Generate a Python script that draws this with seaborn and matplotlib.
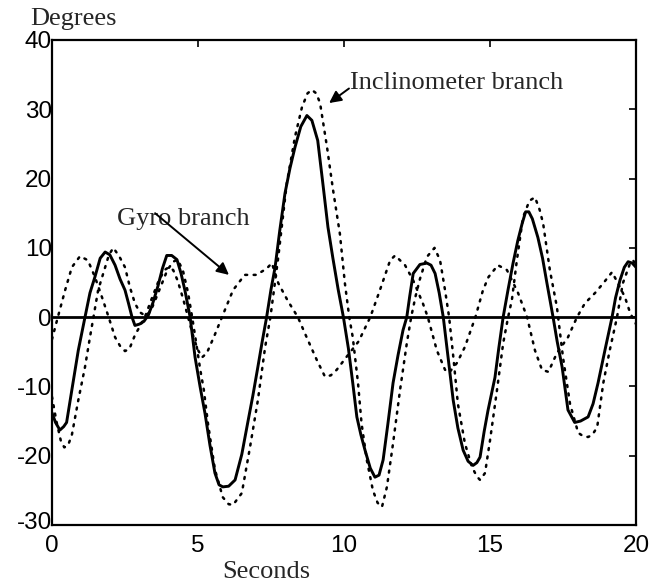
import matplotlib
matplotlib.use("Agg")
import matplotlib.pyplot as plt
import matplotlib.transforms as mtransforms
import seaborn as sns
import pandas as pd

# ---- data ----
t_output = [0.0, 0.12, 0.27, 0.4, 0.5, 0.68, 0.9, 1.13, 1.3, 1.47, 1.65, 1.82, 1.98, 2.16, 2.33, 2.5,
            2.62, 2.74, 2.84, 3.0, 3.15, 3.3, 3.45, 3.63, 3.78, 3.93, 4.1, 4.28, 4.42, 4.55, 4.73, 4.9,
            5.07, 5.24, 5.41, 5.58, 5.72, 5.85, 6.05, 6.27, 6.5, 6.7, 6.88, 7.05, 7.2, 7.35, 7.5, 7.64,
            7.8, 7.98, 8.15, 8.32, 8.52, 8.73, 8.9, 9.1, 9.27, 9.45, 9.62, 9.8, 9.98, 10.15, 10.3, 10.44,
            10.58, 10.72, 10.9, 11.06, 11.2, 11.34, 11.5, 11.68, 11.85, 12.02, 12.15, 12.25, 12.37, 12.6,
            12.84, 12.98, 13.12, 13.26, 13.4, 13.57, 13.74, 13.9, 14.08, 14.25, 14.42, 14.55, 14.66, 14.8,
            14.93, 15.17, 15.3, 15.45, 15.62, 15.79, 15.95, 16.1, 16.22, 16.33, 16.45, 16.64, 16.8, 16.95,
            17.16, 17.3, 17.47, 17.67, 17.9, 18.1, 18.36, 18.53, 18.7, 18.95, 19.18, 19.3, 19.45, 19.6,
            19.73, 19.87, 20.0]
v_output = [-13.8, -15.2, -16.3, -15.8, -15.2, -10.5, -4.8, 0.0, 3.5, 5.8, 8.5, 9.4, 9.0, 7.5, 5.5, 3.9,
            2.0, 0.0, -1.2, -1.0, -0.6, 0.3, 2.0, 4.5, 7.0, 8.9, 8.9, 8.3, 6.3, 3.9, 0.0, -5.8,
            -10.0, -13.9, -18.5, -22.5, -24.2, -24.5, -24.4, -23.5, -19.8, -15.3, -11.3, -7.2, -3.5, 0.0, 4.0, 7.2,
            12.5, 17.9, 21.5, 24.5, 27.5, 29.1, 28.4, 25.5, 19.5, 13.0, 8.5, 4.0, 0.0, -4.5, -9.5, -14.4,
            -17.0, -19.2, -21.8, -23.1, -22.8, -20.6, -15.5, -9.5, -5.5, -1.9, 0.0, 3.0, 6.3, 7.6,
            7.8, 7.5, 6.3, 3.5, 0.0, -6.0, -12.0, -16.0, -19.2, -20.8, -21.4, -21.0, -20.2, -16.5,
            -13.5, -8.7, -4.5, 0.0, 4.0, 7.8, 11.0, 13.5, 15.2, 15.2, 14.2, 11.5, 8.5, 4.9,
            0.0, -3.5, -7.2, -13.4, -15.2, -15.0, -14.4, -12.5, -9.5, -4.5, 0.0, 2.8, 5.3, 7.2,
            8.0, 7.8, 7.2]

t_incl = [0.0, 0.15, 0.3, 0.42, 0.55, 0.68, 0.9, 1.13, 1.3, 1.42, 1.58, 1.82, 1.95, 2.1, 2.3, 2.5,
          2.67, 2.84, 3.01, 3.2, 3.37, 3.53, 3.77, 3.95, 4.15, 4.3, 4.48, 4.66, 4.8, 4.93, 5.07, 5.2,
          5.34, 5.58, 5.85, 6.05, 6.2, 6.5, 6.78, 7.05, 7.3, 7.48, 7.75, 8.04, 8.32, 8.56, 8.75, 8.9,
          9.05, 9.18, 9.42, 9.62, 9.86, 10.03, 10.18, 10.3, 10.48, 10.6, 10.78, 10.99, 11.15, 11.3,
          11.47, 11.68, 11.92, 12.15, 12.3, 12.45, 12.6, 12.84, 13.1, 13.29, 13.46, 13.6, 13.75, 13.9,
          14.14, 14.38, 14.55, 14.66, 14.83, 15.0, 15.24, 15.45, 15.62, 15.75, 15.92, 16.13, 16.35,
          16.54, 16.7, 16.82, 17.05, 17.29, 17.5, 17.74, 18.02, 18.2, 18.36, 18.5, 18.67, 18.88,
          19.1, 19.35, 19.55, 19.8, 19.9, 20.0]
v_incl = [-11.5, -15.0, -17.8, -18.8, -18.5, -17.0, -12.0, -7.2, -2.9, 0.0, 3.9, 7.2, 9.0, 10.0, 8.8, 7.2,
          4.3, 2.0, 0.7, 0.2, 0.8, 2.4, 4.9, 6.8, 8.0, 8.3, 6.8, 3.5, 0.0, -3.5, -7.4, -10.5,
          -15.3, -22.0, -26.0, -27.0, -27.1, -25.4, -18.8, -12.0, -4.3, 0.0, 8.7, 19.3, 26.0, 30.3, 32.3, 32.8,
          32.3, 30.9, 24.5, 18.5, 12.0, 4.9, 0.0, -2.9, -9.5, -15.3, -20.6, -25.0, -26.8, -27.4,
          -24.5, -18.2, -10.5, -3.8, 0.0, 3.0, 5.5, 8.7, 10.0, 8.2, 3.9, 0.0, -6.0, -12.5,
          -18.2, -21.6, -23.0, -23.5, -22.5, -17.8, -10.5, -3.8, 0.0, 2.5, 8.2, 14.4, 16.8,
          17.3, 15.5, 13.5, 6.8, 1.5, -5.8, -12.5, -16.7, -17.2, -17.3, -17.0, -15.9, -9.5,
          -4.8, 0.0, 4.9, 7.8, 8.2, 7.5]

t_gyro = [0.0, 0.2, 0.45, 0.68, 0.96, 1.23, 1.47, 1.71, 1.94, 2.16, 2.35, 2.5, 2.65, 2.84, 3.0, 3.18,
          3.4, 3.63, 3.85, 4.0, 4.15, 4.3, 4.48, 4.66, 4.82, 4.98, 5.14, 5.3, 5.55, 5.85, 6.2, 6.6,
          7.0, 7.35, 7.53, 7.75, 8.07, 8.42, 8.72, 9.07, 9.35, 9.55, 9.75, 10.13, 10.5, 10.9, 11.23,
          11.58, 11.75, 12.09, 12.37, 12.7, 12.87, 13.18, 13.46, 13.6, 13.87, 14.14, 14.5, 14.76,
          14.95, 15.27, 15.58, 15.96, 16.27, 16.54, 16.78, 17.0, 17.29, 17.67, 17.98, 18.25, 18.6,
          18.88, 19.18, 19.38, 19.62, 19.8, 20.0]
v_gyro = [-3.2, 0.0, 3.9, 7.2, 8.8, 8.2, 5.8, 2.9, 0.0, -2.9, -4.3, -4.9, -4.6, -2.6, -1.4, 0.0,
          2.5, 5.0, 6.8, 7.2, 6.8, 5.3, 2.8, 0.0, -2.5, -4.6, -5.8, -5.2, -2.8, 0.3, 3.9, 6.1,
          6.1, 7.0, 7.8, 4.9, 2.4, 0.0, -2.9, -6.2, -8.6, -8.4, -7.6, -5.5, -3.5, 0.0, 3.9,
          8.2, 8.9, 7.5, 5.3, 2.0, 0.0, -4.8, -7.6, -8.0, -6.6, -4.3, 0.0, 3.9,
          5.8, 7.5, 6.8, 3.5, 0.0, -4.8, -7.6, -7.9, -5.2, -2.9, 0.0, 2.0, 3.5,
          4.9, 6.5, 4.9, 2.9, 0.6, -1.0]

x_ticks = [0, 5, 10, 15, 20]
y_ticks = [-30, -20, -10, 0, 10, 20, 30, 40]
x_label = "Seconds"
y_label = "Degrees"
incl_label = "Inclinometer branch"
gyro_label = "Gyro branch"

# ---- style ----
sns.set_style("white")
plt.rcParams["font.family"] = ["Liberation Sans", "DejaVu Sans"]
plt.rcParams["axes.unicode_minus"] = False

W, H = 664, 584
fig = plt.figure(figsize=(W / 100, H / 100), dpi=100)
ax = fig.add_axes([52 / W, 1 - 525 / H, (636 - 52) / W, (525 - 40) / H])

df_out = pd.DataFrame({"t": t_output, "v": v_output})
df_inc = pd.DataFrame({"t": t_incl, "v": v_incl})
df_gyr = pd.DataFrame({"t": t_gyro, "v": v_gyro})

sns.lineplot(data=df_inc, x="t", y="v", ax=ax, color="black", lw=1.8,
             linestyle=(0, (0.8, 2.6)), dash_capstyle="round", estimator=None, sort=False)
sns.lineplot(data=df_gyr, x="t", y="v", ax=ax, color="black", lw=1.8,
             linestyle=(0, (0.8, 2.6)), dash_capstyle="round", estimator=None, sort=False)
sns.lineplot(data=df_out, x="t", y="v", ax=ax, color="black", lw=2.1,
             estimator=None, sort=False)
ax.axhline(0, color="black", lw=2.0)

ax.set_xlim(0, 20)
ax.set_ylim(-30, 40)
ax.set_xticks(x_ticks)
ax.set_yticks(y_ticks)
ax.set_xticklabels([str(v) for v in x_ticks])
ax.set_yticklabels([str(v) for v in y_ticks])
ax.tick_params(direction="in", length=5, width=1.2, top=True, right=True,
               labelsize=17.5, color="black", labelcolor="black")
ax.tick_params(axis="y", pad=0)
ax.tick_params(axis="x", pad=7)
for s in ax.spines.values():
    s.set_visible(True)
    s.set_color("black")
    s.set_linewidth(1.6)
ax.set_xlabel("")
ax.set_ylabel("")

# lift the lowest y label a little so it does not collide with the x "0"
low = ax.get_yticklabels()[0]
low.set_transform(low.get_transform() + mtransforms.ScaledTranslation(0, 3 / 72, fig.dpi_scale_trans))

serif = ["Liberation Serif", "DejaVu Serif"]
fig.text(30 / W, 1 - 25 / H, y_label, family=serif, fontsize=19, va="baseline", ha="left")
fig.text(222 / W, 1 - 578 / H, x_label, family=serif, fontsize=19, va="baseline", ha="left")

ax.text(10.21, 33.0, incl_label, family=serif, fontsize=19, va="baseline", ha="left")
ax.text(2.23, 13.3, gyro_label, family=serif, fontsize=19, va="baseline", ha="left")

arrow = dict(arrowstyle="-|>", color="black", lw=1.4, mutation_scale=18, shrinkA=0, shrinkB=0)
ax.annotate("", xy=(9.49, 30.9), xytext=(10.17, 33.0), arrowprops=arrow)
ax.annotate("", xy=(6.06, 6.1), xytext=(3.53, 15.0), arrowprops=arrow)

fig.savefig("out.png", dpi=100)
